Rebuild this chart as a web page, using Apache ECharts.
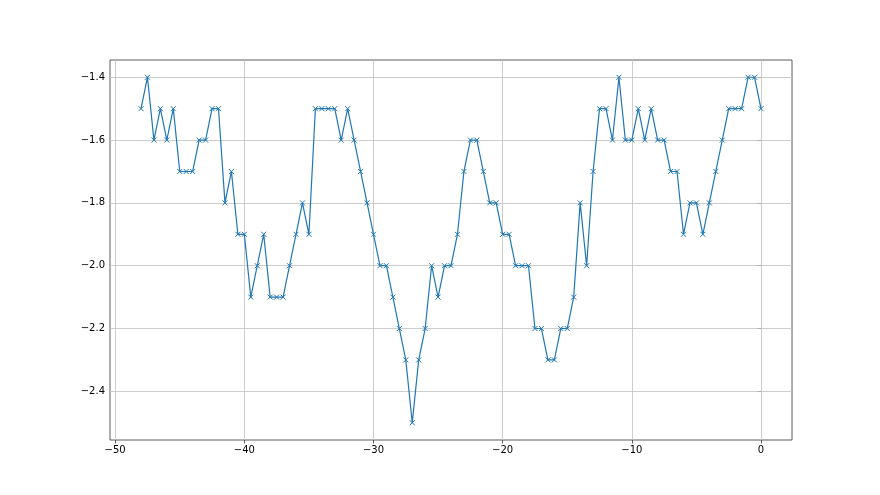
<!DOCTYPE html>
<html>
<head>
<meta charset="utf-8">
<script src="https://cdn.jsdelivr.net/npm/echarts@6/dist/echarts.min.js"></script>
<style>html,body{margin:0;padding:0;background:#fff}#c{width:880px;height:495px}</style>
</head>
<body>
<div id="c"></div>
<script>
const xStart = -48, xStep = 0.5;
const yValues = [
  -1.5,-1.4,-1.6,-1.5,-1.6,-1.5,-1.7,-1.7,-1.7,-1.6,
  -1.6,-1.5,-1.5,-1.8,-1.7,-1.9,-1.9,-2.1,-2.0,-1.9,
  -2.1,-2.1,-2.1,-2.0,-1.9,-1.8,-1.9,-1.5,-1.5,-1.5,
  -1.5,-1.6,-1.5,-1.6,-1.7,-1.8,-1.9,-2.0,-2.0,-2.1,
  -2.2,-2.3,-2.5,-2.3,-2.2,-2.0,-2.1,-2.0,-2.0,-1.9,
  -1.7,-1.6,-1.6,-1.7,-1.8,-1.8,-1.9,-1.9,-2.0,-2.0,
  -2.0,-2.2,-2.2,-2.3,-2.3,-2.2,-2.2,-2.1,-1.8,-2.0,
  -1.7,-1.5,-1.5,-1.6,-1.4,-1.6,-1.6,-1.5,-1.6,-1.5,
  -1.6,-1.6,-1.7,-1.7,-1.9,-1.8,-1.8,-1.9,-1.8,-1.7,
  -1.6,-1.5,-1.5,-1.5,-1.4,-1.4,-1.5
];
const xTicks = [-50, -40, -30, -20, -10, 0];
const yTicks = [-2.4, -2.2, -2.0, -1.8, -1.6, -1.4];

const data = yValues.map((v, i) => [xStart + i * xStep, v]);
const fmt = v => String(v).replace('-', '\u2212');
const fmtY = v => v.toFixed(1).replace('-', '\u2212');
const gridStyle = {color: '#c0c0c0', width: 0.8, type: 'solid'};

const chart = echarts.init(document.getElementById('c'), null, {renderer: 'canvas'});
chart.setOption({
  animation: false,
  backgroundColor: '#fff',
  grid: {left: 110, right: 88, top: 60, bottom: 55, show: true, borderColor: '#333', borderWidth: 0.8, backgroundColor: 'transparent'},
  xAxis: {
    type: 'value', min: -50.4, max: 2.4,
    axisLine: {show: false},
    axisTick: {show: true, customValues: xTicks, length: 3.5, inside: false, lineStyle: {color: '#333', width: 0.8}},
    axisLabel: {customValues: xTicks, formatter: fmt, color: '#000', fontSize: 10, fontFamily: 'DejaVu Sans', margin: 5},
    splitLine: {show: false}
  },
  yAxis: {
    type: 'value', min: -2.555, max: -1.345,
    axisLine: {show: false},
    axisTick: {show: true, customValues: yTicks, length: 3.5, lineStyle: {color: '#333', width: 0.8}},
    axisLabel: {customValues: yTicks, formatter: fmtY, color: '#000', fontSize: 10, fontFamily: 'DejaVu Sans', margin: 5},
    splitLine: {show: false}
  },
  series: [{
    type: 'line', data: data,
    symbol: 'path://M0,0L10,10M10,0L0,10', symbolSize: 5,
    showAllSymbol: true,
    z: 3,
    lineStyle: {color: '#1f77b4', width: 1.2},
    itemStyle: {color: '#1f77b4', borderColor: '#1f77b4', borderWidth: 1},
    markLine: {
      silent: true, symbol: 'none', animation: false, z: 1,
      label: {show: false},
      lineStyle: gridStyle,
      emphasis: {disabled: true},
      data: xTicks.map(v => ({xAxis: v})).concat(yTicks.map(v => ({yAxis: v})))
    }
  }]
});
</script>
</body>
</html>
